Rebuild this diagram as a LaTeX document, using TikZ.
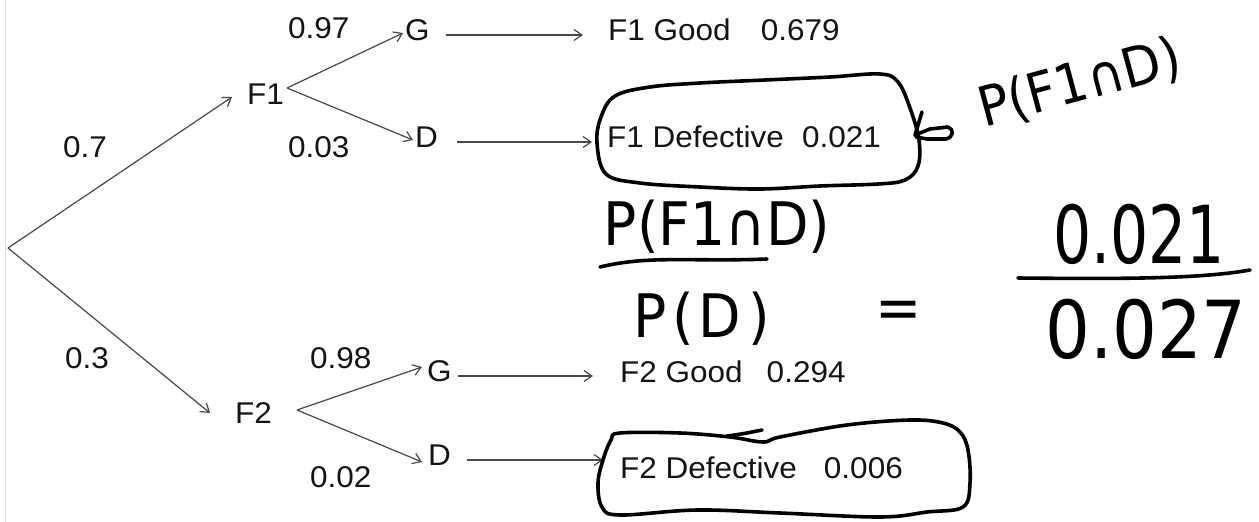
\documentclass[tikz,border=0pt]{standalone}
\usepackage{fontspec}
\setmainfont{Liberation Sans}[FakeStretch=1.05]
\newfontfamily\handA{DejaVu Sans}[FakeStretch=0.92]
\newfontfamily\handB{DejaVu Sans}[FakeStretch=0.75]
\newfontfamily\handC{DejaVu Sans}[FakeStretch=0.88]
\usetikzlibrary{arrows.meta,calc}
\begin{document}
\begin{tikzpicture}[x=1pt,y=-1pt,
  lbl/.style={font=\fontsize{30}{32}\selectfont, text=black!92, inner sep=0pt, anchor=base west, text height=15pt, text depth=5pt},
  conn/.style={draw=black!72, line width=1.2pt, -{Straight Barb[length=8pt,width=11pt,line width=1.2pt]}},
  ink/.style={line width=3.6pt, line cap=round, line join=round, black},
  hand/.style={inner sep=0pt, text=black},
  handmid/.style={hand, font=\handA\fontsize{60}{66}\selectfont},
  handbig/.style={hand, font=\handB\fontsize{80}{88}\selectfont},
]
\useasboundingbox[fill=white] (0,0) rectangle (1259,522);
\draw[black!12, line width=1pt] (5,0) -- (5,522);

% tree labels
\node[lbl] (F1) at (247,104) {F1};
\node[lbl] (G1) at (405,40) {G};
\node[lbl] (D1) at (415,147) {D};
\node[lbl] (p097) at (288,38) {0.97};
\node[lbl] (p003) at (288,157) {0.03};
\node[lbl] (p07) at (63,157) {0.7};
\node[lbl] (p03) at (65,368) {0.3};
\node[lbl] (F2) at (235,423) {F2};
\node[lbl] (G2) at (427,381) {G};
\node[lbl] (D2) at (428,465) {D};
\node[lbl] (p098) at (310,368) {0.98};
\node[lbl] (p002) at (310,487) {0.02};

% leaves
\node[lbl] (L1) at (608,40) {F1 Good\hspace{30pt}0.679};
\node[lbl] (L2) at (607,147) {F1 Defective\hspace{18pt}0.021};
\node[lbl] (L3) at (620,382) {F2 Good\hspace{24pt}0.294};
\node[lbl] (L4) at (620,478) {F2 Defective\hspace{27pt}0.006};

% connectors
\coordinate (root) at (8,248);
\coordinate (F1o) at (287,88);
\coordinate (F2o) at (297,410);
\draw[conn] (root) -- ($(F1.west)+(-15,-2)$);
\draw[conn] (root) -- ($(F2.west)+(-25,-5)$);
\draw[conn] (F1o) -- ($(G1.west)+(-2,-2)$);
\draw[conn] (F1o) -- ($(D1.west)+(-2,-2)$);
\draw[conn] (F2o) -- ($(G2.west)+(-5,-9)$);
\draw[conn] (F2o) -- ($(D2.west)+(-6,2)$);
\draw[conn, shorten <=16pt, shorten >=25pt] (G1.east) -- (G1.east -| L1.west);
\draw[conn, shorten <=19pt, shorten >=15pt] (D1.east) -- (D1.east -| L2.west);
\draw[conn, shorten <=6pt, shorten >=27pt] (G2.east) -- (G2.east -| L3.west);
\draw[conn, shorten <=16pt, shorten >=17pt] (D2.east) -- (D2.east -| L4.west);

% hand-drawn ovals
\draw[ink] plot[smooth cycle, tension=0.6] coordinates {(597,143) (601,117) (615,96) (650,87) (700,83) (765,80) (830,77) (880,74) (898,82) (910,108) (919,140) (918,166) (905,180) (878,184) (820,186) (760,189) (700,187) (640,183) (606,174)};
\draw[ink] plot[smooth cycle, tension=0.6] coordinates {(603,460) (598,483) (602,507) (620,515) (697,510) (780,513) (880,517) (927,512) (963,507) (970,483) (968,450) (960,432) (943,423) (910,420) (847,425) (780,437) (763,442) (730,437) (680,433) (620,433) (611,440)};
\draw[ink] (727,436) .. controls (742,434) .. (762,430);

% hand arrow
\draw[ink] (922,112) -- (915,135) -- (930,129) -- (948,127) .. controls (954,129) and (954,137) .. (946,139) -- (927,139) -- (916,137);

% handwritten text
\node[hand, font=\handA\fontsize{55}{60}\selectfont, rotate=15] (t1) at (1080,84) {P(F1∩D)};
\node[handmid] (t2) at (717,227) {P(F1∩D)};
\draw[ink] (600,267) .. controls (650,255) and (690,262) .. (767,259);
\node[handmid] (t3) at (702,319) {P\hspace{6pt}(\hspace{4pt}D\hspace{8pt})};
\node[handmid] (eq) at (899,315) {=};
\node[handbig] (n1) at (1139,234) {0.021};
\draw[ink] (1018,278) .. controls (1120,279) and (1200,279) .. (1250,270);
\node[hand, font=\handC\fontsize{80}{88}\selectfont] (n2) at (1146,329) {0.027};
\end{tikzpicture}
\end{document}
